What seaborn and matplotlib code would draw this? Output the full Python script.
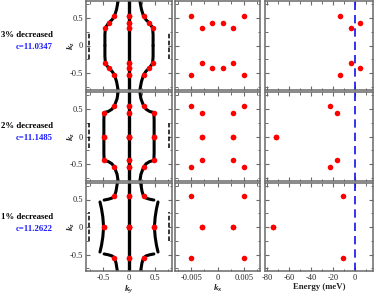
import matplotlib
matplotlib.use("Agg")
import matplotlib.pyplot as plt
import seaborn as sns
from matplotlib.ticker import MultipleLocator

# row labels
strain_labels = ["3% decreased", "2% decreased", "1% decreased"]
c_labels = ["c=11.0347", "c=11.1485", "c=11.2622"]

# Fermi surface contours, upper-right quadrant (ky, kz); mirrored to the others
fs_ky = [
    [[0.21, 0.24, 0.28, 0.33, 0.39, 0.455, 0.465, 0.465]],
    [[0.21, 0.23, 0.28, 0.33, 0.40, 0.48, 0.485, 0.485]],
    [[0.225, 0.25, 0.28, 0.33, 0.40, 0.48], [0.56, 0.53, 0.505, 0.49]],
]
fs_kz = [
    [[0.80, 0.65, 0.53, 0.46, 0.41, 0.32, 0.20, 0.0]],
    [[0.80, 0.68, 0.555, 0.49, 0.45, 0.43, 0.30, 0.0]],
    [[0.80, 0.655, 0.56, 0.525, 0.505, 0.49], [0.455, 0.33, 0.18, 0.0]],
]
# short pieces at the zone edge (ky = +-0.78)
edge_kz = [[-0.24, 0.24], [-0.20, 0.24], [-0.25, 0.27]]

# red points, upper-right quadrant
dot_ky = [[0, 0, 0, 0.28, 0.39, 0.455], [0, 0, 0, 0.28, 0.48, 0.48], [0, 0, 0.28, 0.49]]
dot_kz = [[0.53, 0.41, 0.32, 0.53, 0.41, 0.32], [0.555, 0.43, 0, 0.555, 0.43, 0], [0.56, 0, 0.56, 0]]

kx_vals = [[0.005, 0.001, 0.003], [0.005, 0.003, 0.003], [0.005, 0.003]]
kx_kz = [[0.53, 0.41, 0.31], [0.555, 0.43, 0.0], [0.56, 0.0]]

energy = [[-13.6, 4.5, -3.5], [-22.5, -16.7, -72.0], [-10.7, -75.0]]
energy_kz = [[0.53, 0.41, 0.31], [0.555, 0.43, 0.0], [0.56, 0.0]]


def mirror4(x, y):
    xs = list(x) + [-v for v in x] + list(x) + [-v for v in x]
    ys = list(y) + list(y) + [-v for v in y] + [-v for v in y]
    return xs, ys


def mirror_kz(x, y):
    return list(x) + list(x), list(y) + [-v for v in y]


sns.set_style("ticks")
plt.rcParams["font.family"] = ["Liberation Serif", "DejaVu Serif"]
plt.rcParams["mathtext.fontset"] = "custom"
plt.rcParams["mathtext.it"] = "Liberation Serif:italic:bold"
plt.rcParams["mathtext.rm"] = "Liberation Serif:bold"
plt.rcParams["axes.unicode_minus"] = False

W, H = 374, 300
fig = plt.figure(figsize=(W / 100, H / 100), dpi=100)

cols = [(86, 172), (175, 260), (265, 373)]
rows = [(1, 90), (92, 181), (183, 271)]

spine_col = "#6a6a6a"
red = "#ff0000"

for r, (top, bot) in enumerate(rows):
    axes = []
    for c, (left, right) in enumerate(cols):
        ax = fig.add_axes([left / W, 1 - bot / H, (right - left) / W, (bot - top) / H])
        axes.append(ax)
    ax1, ax2, ax3 = axes

    # column 1: Fermi surface in ky-kz
    for xs_q, ys_q in zip(fs_ky[r], fs_kz[r]):
        for sx in (1, -1):
            for sy in (1, -1):
                sns.lineplot(x=[sx * v for v in xs_q], y=[sy * v for v in ys_q], ax=ax1,
                             sort=False, estimator=None, color="black", lw=2.2)
    sns.lineplot(x=[0, 0], y=[-0.8, 0.8], ax=ax1, sort=False, estimator=None,
                 color="black", lw=2.4)
    for sx in (1, -1):
        sns.lineplot(x=[sx * 0.78, sx * 0.78], y=edge_kz[r], ax=ax1, sort=False,
                     estimator=None, color="black", lw=1.1, linestyle=(0, (3, 1.5)))
    dx, dy = mirror4(dot_ky[r], dot_kz[r])
    sns.scatterplot(x=dx, y=dy, ax=ax1, color=red, s=16, linewidth=0, zorder=5)
    ax1.set_xlim(-0.83, 0.83)

    # column 2: kx-kz points
    dx, dy = mirror4(kx_vals[r], kx_kz[r])
    sns.scatterplot(x=dx, y=dy, ax=ax2, color=red, s=16, linewidth=0, zorder=5)
    ax2.set_xlim(-0.0081, 0.0081)

    # column 3: energy vs kz
    ex, ey = mirror_kz(energy[r], energy_kz[r])
    sns.scatterplot(x=ex, y=ey, ax=ax3, color=red, s=16, linewidth=0, zorder=5)
    ax3.axvline(0, color="#1010ee", lw=1.2, linestyle=(0, (5, 3)))
    ax3.set_xlim(-82, 16.5)

    for c, ax in enumerate(axes):
        ax.set_ylim(-0.8, 0.8)
        ax.yaxis.set_major_locator(MultipleLocator(0.5))
        ax.yaxis.set_minor_locator(MultipleLocator(0.25))
        if c == 0:
            ax.xaxis.set_major_locator(MultipleLocator(0.5))
            ax.xaxis.set_minor_locator(MultipleLocator(0.25))
        elif c == 1:
            ax.xaxis.set_major_locator(MultipleLocator(0.005))
            ax.xaxis.set_minor_locator(MultipleLocator(0.0025))
        else:
            ax.xaxis.set_major_locator(MultipleLocator(20))
            ax.xaxis.set_minor_locator(MultipleLocator(10))
        ax.tick_params(which="both", direction="in", top=True, right=True,
                       color=spine_col, labelsize=6, pad=2)
        ax.tick_params(which="major", length=3.2, width=0.8)
        ax.tick_params(which="minor", length=1.8, width=0.7)
        for sp in ax.spines.values():
            sp.set_color(spine_col)
            sp.set_linewidth(1.1)
        ax.set_xlabel("")
        ax.set_ylabel("")
        if c != 0:
            ax.set_yticklabels([])
        if r != 2:
            ax.set_xticklabels([])

    ax1.yaxis.set_major_formatter(lambda v, p: "0" if abs(v) < 1e-9 else f"{v:g}")
    ax1.set_ylabel(r"$k_z$", fontsize=6.5, labelpad=0)
    ax1.yaxis.set_label_coords(-0.10, 0.5)

    fig.text(27 / W, 1 - (top + 34) / H, strain_labels[r], ha="center", va="center",
             fontsize=6.3, fontweight="bold", color="black")
    fig.text(34 / W, 1 - (top + 46) / H, c_labels[r], ha="center", va="center",
             fontsize=6.3, fontweight="bold", color="#1a1aff")

    if r == 2:
        ax1.xaxis.set_major_formatter(lambda v, p: "0" if abs(v) < 1e-9 else f"{v:g}")
        ax2.xaxis.set_major_formatter(lambda v, p: "0" if abs(v) < 1e-12 else f"{v:.3f}")
        ax3.xaxis.set_major_formatter(lambda v, p: f"{v:.0f}")
        ax1.set_xlabel(r"$k_y$", fontsize=6.5, labelpad=1)
        ax2.set_xlabel(r"$k_x$", fontsize=6.5, labelpad=1)
        ax3.set_xlabel("Energy (meV)", fontsize=6.3, fontweight="bold", labelpad=1)

fig.savefig("out.png", dpi=100)
